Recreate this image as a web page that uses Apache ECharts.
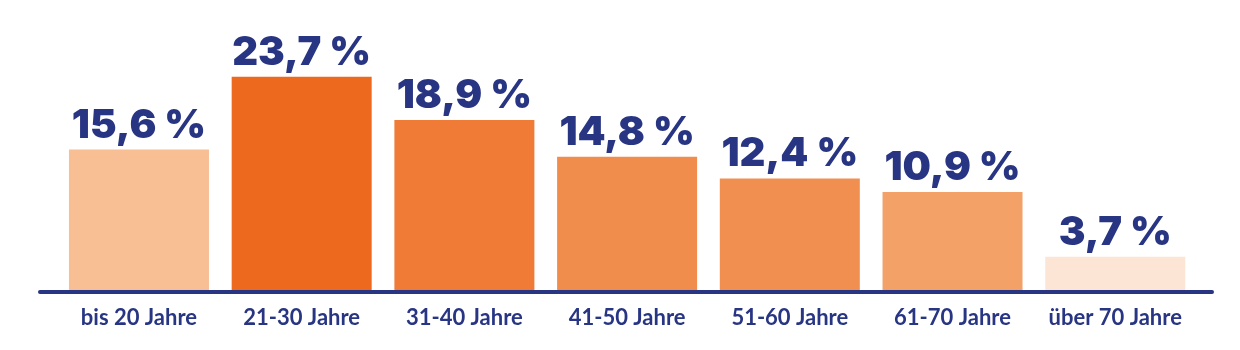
<!DOCTYPE html>
<html><head><meta charset="utf-8">
<script src="https://cdn.jsdelivr.net/npm/echarts@6/dist/echarts.min.js"></script>
<style>html,body{margin:0;padding:0;background:#fff}#c{width:1240px;height:350px}</style>
</head><body><div id="c"></div>
<script>
const categories = ['bis 20 Jahre','21-30 Jahre','31-40 Jahre','41-50 Jahre','51-60 Jahre','61-70 Jahre','über 70 Jahre'];
const values = [15.6, 23.7, 18.9, 14.8, 12.4, 10.9, 3.7];
const colors = ['#F8BE94','#EC691E','#EF7B37','#F08D4D','#F18F50','#F3A167','#FDE5D6'];
const navy = '#283583';
const chart = echarts.init(document.getElementById('c'));
chart.setOption({
  animation:false,
  grid:[
    {left:57.6, width:1139, top:65, bottom:60},
    {left:40, right:28, top:65, bottom:58}
  ],
  xAxis:[
    {type:'category', data:categories, gridIndex:0,
     axisLine:{show:false}, axisTick:{show:false},
     axisLabel:{interval:0, color:navy, fontFamily:'Lato', fontWeight:'bold', fontSize:22, margin:17}},
    {type:'value', gridIndex:1, min:0, max:1, splitLine:{show:false}, axisTick:{show:false}, axisLabel:{show:false},
     axisLine:{show:true, lineStyle:{color:navy, width:4, cap:'round'}}}
  ],
  yAxis:[
    {type:'value', gridIndex:0, min:0, max:25, show:false},
    {type:'value', gridIndex:1, min:0, max:1, show:false}
  ],
  series:[{
    type:'bar', xAxisIndex:0, yAxisIndex:0, barWidth:140,
    data: values.map((v,i)=>({value:v, itemStyle:{color:colors[i]}})),
    label:{show:true, position:'top', distance:4, color:navy, fontFamily:'Inter', fontWeight:900, fontSize:40,
      formatter:p=>String(p.value).replace('.',',')+' %'}
  }]
});
</script></body></html>
